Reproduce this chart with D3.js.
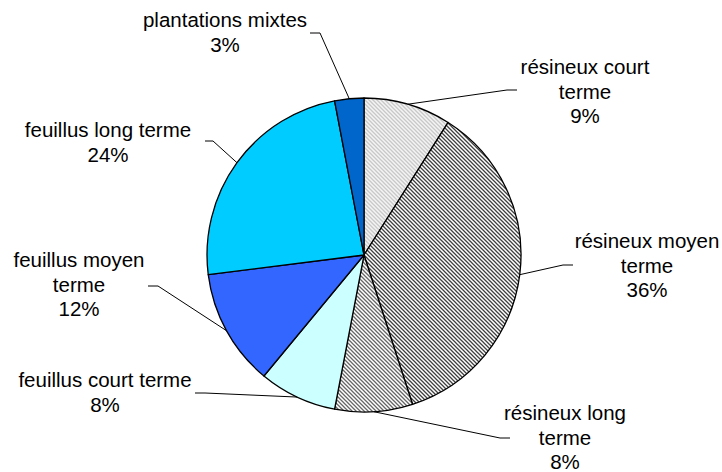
<!DOCTYPE html>
<html><head><meta charset="utf-8">
<script src="https://cdn.jsdelivr.net/npm/d3@7"></script>
<style>html,body{margin:0;padding:0;background:#fff}svg{display:block}</style>
</head><body>
<svg id="c" width="722" height="472"></svg>
<script>
// ---- data ----
const categories = ["résineux court terme","résineux moyen terme","résineux long terme","feuillus court terme","feuillus moyen terme","feuillus long terme","plantations mixtes"];
const values = [9, 36, 8, 8, 12, 24, 3];
const labelLines = [
  ["résineux court","terme","9%"],
  ["résineux moyen","terme","36%"],
  ["résineux long","terme","8%"],
  ["feuillus court terme","8%"],
  ["feuillus moyen","terme","12%"],
  ["feuillus long terme","24%"],
  ["plantations mixtes","3%"]
];
// ---- layout / style ----
const fills = ["url(#p0)","url(#p1)","url(#p2)","#ccffff","#3366ff","#00ccff","#0066cc"];
const labelPos = [ // text centre x, first baseline y, elbow, horizontal end
  {x:585, y:74,  ex:507, ey:90,  hx:517},
  {x:647, y:248, ex:563, ey:265, hx:573},
  {x:565, y:420, ex:500, ey:438, hx:510},
  {x:105, y:387, ex:205, ey:393, hx:195},
  {x:79,  y:267, ex:158, ey:286, hx:148},
  {x:108, y:137, ex:213, ey:141, hx:205},
  {x:225, y:27,  ex:320, ey:33,  hx:310}
];
const cx = 364, cy = 255, R = 157, lineH = 24.5;

const svg = d3.select("#c");
const defs = svg.append("defs");
const pats = [
  {id:"p0", bg:"#f4f4f4", fg:"#c8c8c8"},
  {id:"p1", bg:"#ffffff", fg:"#404040"},
  {id:"p2", bg:"#ffffff", fg:"#666666"}
];
pats.forEach(p => {
  const pt = defs.append("pattern").attr("id", p.id).attr("patternUnits","userSpaceOnUse")
    .attr("width",4).attr("height",4);
  pt.append("rect").attr("width",4).attr("height",4).attr("fill",p.bg);
  pt.append("path").attr("d","M-1,-1L5,5M-1,3L1,5M3,-1L5,1").attr("stroke",p.fg).attr("stroke-width",1.3);
});

const pie = d3.pie().sort(null).value(d => d)(values);
const arc = d3.arc().innerRadius(0).outerRadius(R);
const g = svg.append("g").attr("transform", `translate(${cx},${cy})`);
g.selectAll("path.slice").data(pie).join("path").attr("class","slice")
  .attr("d", arc).attr("fill", (d,i) => fills[i])
  .attr("stroke","#000").attr("stroke-width",1.3).attr("stroke-linejoin","round");

// leader lines
pie.forEach((d,i) => {
  const a = (d.startAngle + d.endAngle)/2;
  const px = cx + R*Math.sin(a), py = cy - R*Math.cos(a);
  const L = labelPos[i];
  svg.append("polyline")
    .attr("points", `${px},${py} ${L.ex},${L.ey} ${L.hx},${L.ey}`)
    .attr("fill","none").attr("stroke","#000").attr("stroke-width",1);
});

// labels
labelLines.forEach((lines,i) => {
  const L = labelPos[i];
  const t = svg.append("text").attr("text-anchor","middle")
    .attr("font-family","Liberation Sans, Arial, sans-serif").attr("font-size","20.5px").attr("fill","#000");
  lines.forEach((s,k) => t.append("tspan").attr("x",L.x).attr("y",L.y + k*lineH).text(s));
});
</script>
</body></html>
